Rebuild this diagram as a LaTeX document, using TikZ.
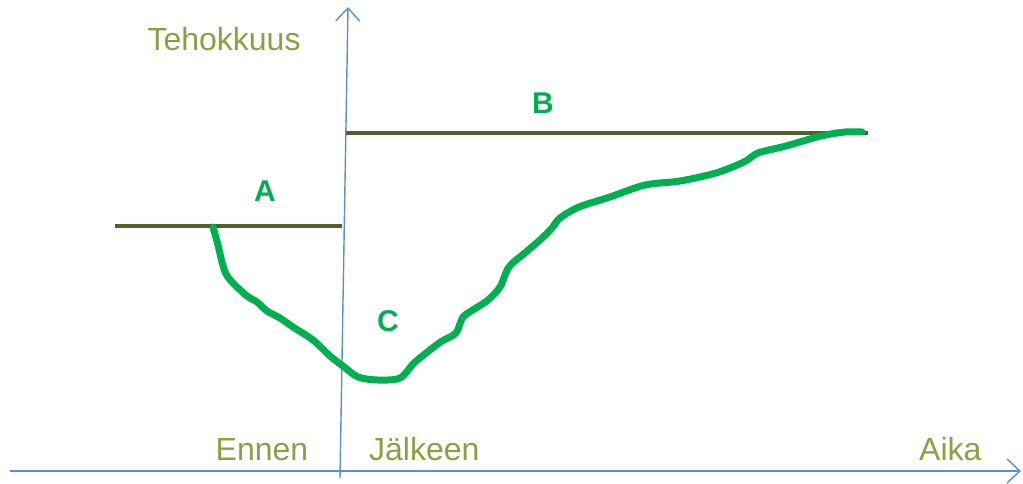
\documentclass[tikz,border=0pt]{standalone}
\usepackage{fontspec}
\setmainfont{Liberation Sans}
\usetikzlibrary{arrows.meta}
\definecolor{axisblue}{HTML}{5B8ED6}
\definecolor{levelolive}{HTML}{4F6228}
\definecolor{curvegreen}{HTML}{00B050}
\definecolor{textolive}{HTML}{8E9E45}
\tikzset{
  axis/.style={draw=axisblue, line width=1.4pt, -{Straight Barb[length=13pt,width=24pt,line width=1.4pt]}},
  level/.style={draw=levelolive, line width=3.5pt},
  curve/.style={draw=curvegreen, line width=7pt, line cap=round, line join=round},
  axlabel/.style={text=textolive, font=\fontsize{32}{36}\selectfont, inner sep=0pt},
  letter/.style={text=curvegreen, font=\fontsize{30}{34}\selectfont\bfseries, inner sep=0pt}
}
\begin{document}
\begin{tikzpicture}[x=1pt,y=-1pt]
\useasboundingbox (0,0) rectangle (1023,483);
% axes
\coordinate (xs) at (10,471);
\coordinate (xe) at (1021,471);
\coordinate (ys) at (340,478);
\coordinate (ye) at (348,7);
\draw[axis] (xs) -- (xe);
\draw[axis] (ys) -- (ye);
% level lines
\coordinate (a1) at (115,226);
\coordinate (a2) at (342,226);
\coordinate (b1) at (346,133);
\coordinate (b2) at (868,133);
\draw[level] (a1) -- (a2);
\draw[level] (b1) -- (b2);
% curve
\draw[curve] plot[smooth, tension=0.5] coordinates {
 (213,227) (218,245) (222,262) (226,274) (233,283) (247,296) (257,302) (267,311)
 (280,318) (293,327) (313,340) (330,356) (343,366) (358,377) (378,380) (400,378)
 (414,363) (430,350) (442,341) (456,333) (463,317) (476,308) (488,300) (500,287)
 (509,267) (526,252) (540,240) (552,228) (560,218) (579,207) (610,197) (645,185)
 (680,181) (716,173) (744,162) (758,153) (786,146) (821,136) (845,132) (862,132)};
% labels
\node[axlabel, anchor=base] (teh) at (224,50) {Tehokkuus};
\node[axlabel, anchor=base] (ennen) at (262,460) {Ennen};
\node[axlabel, anchor=base west] (jalk) at (369,460) {Jälkeen};
\node[axlabel, anchor=base west] (aika) at (919,460) {Aika};
\node[letter] (A) at (265,191) {A};
\node[letter] (B) at (543,103) {B};
\node[letter] (C) at (388,321) {C};
\end{tikzpicture}
\end{document}
